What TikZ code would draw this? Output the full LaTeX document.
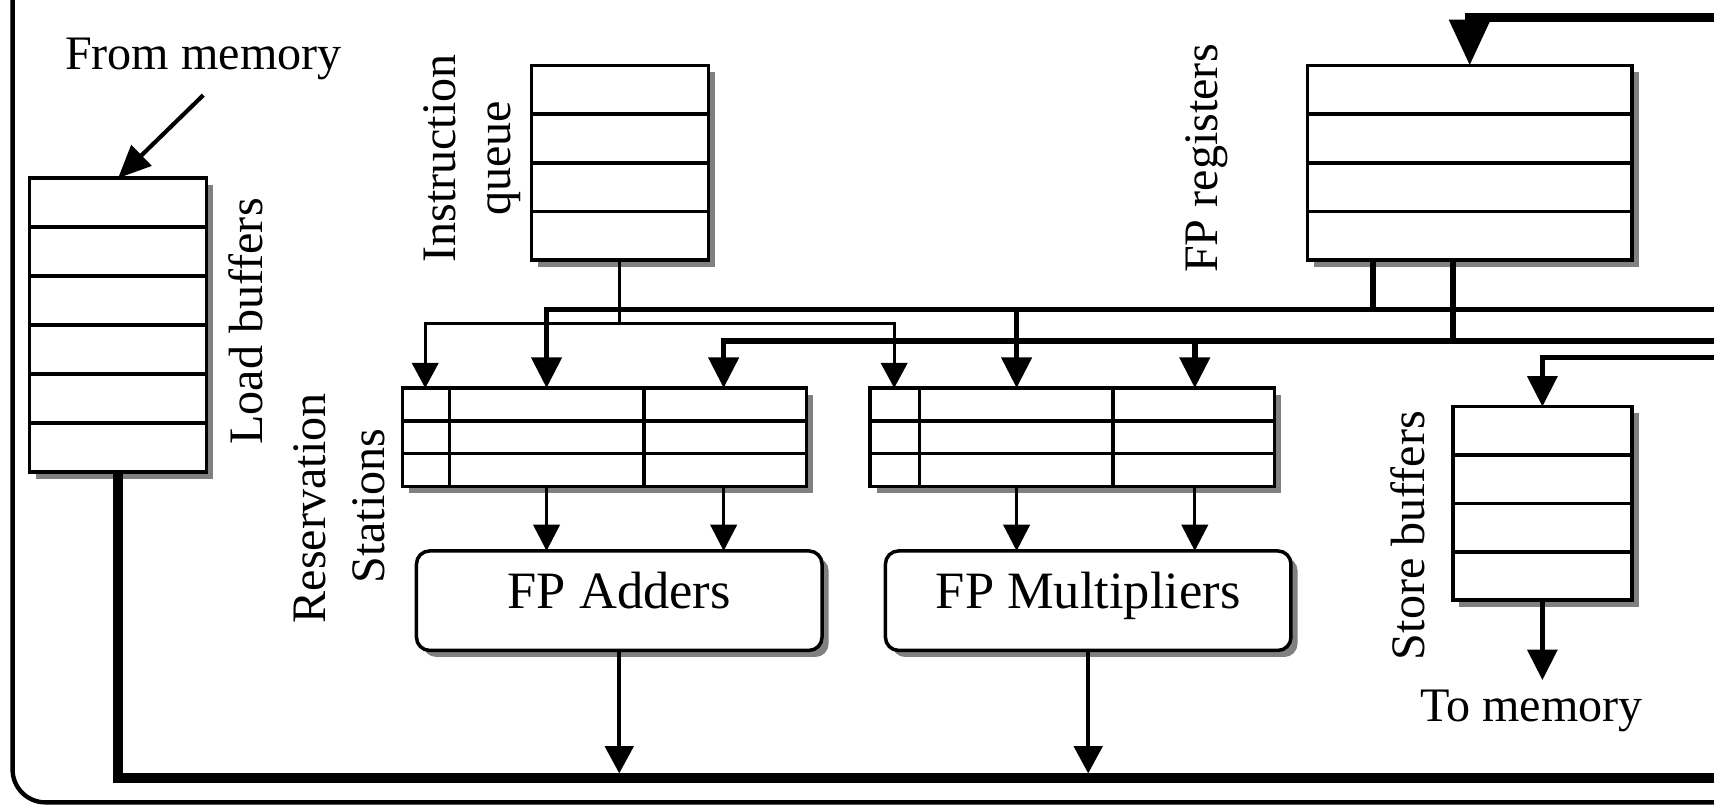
\documentclass[tikz,border=0pt]{standalone}
\usepackage{fontspec}
\setmainfont{Liberation Serif}
\usetikzlibrary{arrows.meta,shadows,calc}
\begin{document}
\begin{tikzpicture}[x=0.5pt,y=-0.5pt,
  box/.style={draw, line width=1.6pt, fill=white, inner sep=0pt, outer sep=0pt,
    drop shadow={shadow xshift=3pt, shadow yshift=-3pt, fill=black!50, opacity=1}},
  fu/.style={box, rounded corners=6pt, font=\fontsize{24pt}{28pt}\selectfont,
    text height=12pt, text depth=4.5pt},
  lbl/.style={font=\fontsize{22pt}{26pt}\selectfont, inner sep=0pt, outer sep=0pt},
  rlbl/.style={lbl, rotate=90, anchor=base},
  divider/.style={line width=1.6pt},
  bus/.style={line width=2.6pt},
  busarr/.style={bus, -{Triangle[length=14pt,width=13.5pt]}},
  sbus/.style={line width=2.3pt, -{Triangle[length=14pt,width=13.5pt]}},
  qline/.style={line width=1.5pt},
  qarr/.style={qline, -{Triangle[length=11.5pt,width=12pt]}},
  fuin/.style={line width=1.5pt, -{Triangle[length=12pt,width=12pt]}},
  fuout/.style={line width=1.8pt, -{Triangle[length=12.5pt,width=13pt]}},
  cdb/.style={line width=4.5pt},
  frame/.style={line width=2pt, rounded corners=15pt}
]
\useasboundingbox (0,0) rectangle (1568,736);
\clip (0,0) rectangle (1568,736);

% outer frame
\draw[frame] (11.5,-40) -- (11.5,734) -- (1640,734);

% boxes
\node[box, minimum width=81pt, minimum height=134.5pt] (lbuf) at (108,297.5) {};
\node[box, minimum width=81pt, minimum height=89pt] (iq) at (567,149) {};
\node[box, minimum width=148.5pt, minimum height=89pt] (fpr) at (1344.5,149) {};
\node[box, minimum width=82pt, minimum height=88.5pt] (sb) at (1411,460.5) {};
\node[box, minimum width=185pt, minimum height=45pt] (rs1) at (553,400) {};
\node[box, minimum width=185pt, minimum height=45pt] (rs2) at (981,400) {};
\node[fu, minimum width=185.5pt, minimum height=45.5pt] (fpa) at (566.5,549.5) {FP Adders};
\node[fu, minimum width=185.5pt, minimum height=45.5pt] (fpm) at (995.5,549.5) {FP Multipliers};

% row dividers
\foreach \i in {1,...,5}
  \draw[divider] ($(lbuf.north west)!{\i/6}!(lbuf.south west)$) -- ($(lbuf.north east)!{\i/6}!(lbuf.south east)$);
\foreach \n in {iq,fpr,sb}
  \foreach \i in {1,2,3}
    \draw[divider] ($(\n.north west)!{\i/4}!(\n.south west)$) -- ($(\n.north east)!{\i/4}!(\n.south east)$);
\foreach \n in {rs1,rs2}
  \foreach \i in {1,2}
    \draw[divider] ($(\n.north west)!{\i/3}!(\n.south west)$) -- ($(\n.north east)!{\i/3}!(\n.south east)$);
\draw[divider] ($(rs1.north west)+(43,0)$) -- ($(rs1.south west)+(43,0)$);
\draw[divider] ($(rs1.north west)+(221,0)$) -- ($(rs1.south west)+(221,0)$);
\draw[divider] ($(rs2.north west)+(45,0)$) -- ($(rs2.south west)+(45,0)$);
\draw[divider] ($(rs2.north west)+(222,0)$) -- ($(rs2.south west)+(222,0)$);

% labels
\node[lbl, anchor=base] (frommem) at (186,64) {From memory};
\node[lbl, anchor=base] (tomem) at (1401,660) {To memory};
\node[rlbl] (tlb) at (240,294) {Load buffers};
\node[rlbl] (tiq1) at (417,145) {Instruction};
\node[rlbl] (tiq2) at (467,145) {queue};
\node[rlbl] (tfpr) at (1114,145) {FP registers};
\node[rlbl] (trs1) at (298,465) {Reservation};
\node[rlbl] (trs2) at (352,463) {Stations};
\node[rlbl] (tsb) at (1303,490) {Store buffers};

% named coordinates
\coordinate (topR) at (1640,16);
\coordinate (ubR) at (1640,283);
\coordinate (lbR) at (1640,312);
\coordinate (sbR) at (1640,327);
\coordinate (cdbR) at (1640,712);
\coordinate (cdbtop) at (0,707.5);
\coordinate (qj) at (567,296);
\coordinate (a1) at (500,0);
\coordinate (a2) at (662,0);
\coordinate (m1) at (930,0);
\coordinate (m2) at (1093,0);
\coordinate (q1) at (389,0);
\coordinate (q2) at (818,0);
\coordinate (r1) at (1256,0);
\coordinate (r2) at (1329,0);
\coordinate (fmS) at (186,87);
\coordinate (tmtip) at ($(sb.south |- tomem.north)+(0,-9)$);

% from memory
\draw[line width=1.9pt, -{Triangle[length=15pt,width=13pt]}] (fmS) -- (lbuf.north);

% CDB into FP registers
\draw[line width=4pt, -{Triangle[length=21pt,width=18pt]}] (topR) -| (fpr.north);

% FP register outputs
\draw[bus] (r1 |- fpr.south) -- (r1 |- ubR);
\draw[bus] (r2 |- fpr.south) -- (r2 |- lbR);

% operand buses
\draw[busarr] (ubR) -| (a1 |- rs1.north);
\draw[busarr] (m1 |- ubR) -- (m1 |- rs2.north);
\draw[busarr] (lbR) -| (a2 |- rs1.north);
\draw[busarr] (m2 |- lbR) -- (m2 |- rs2.north);
\draw[sbus] (sbR) -| (sb.north);

% operation bus
\draw[qline] (iq.south) -- (qj);
\draw[qarr] (qj) -| (q1 |- rs1.north);
\draw[qarr] (qj) -| (q2 |- rs2.north);

% RS to functional units
\draw[fuin] (a1 |- rs1.south) -- (a1 |- fpa.north);
\draw[fuin] (a2 |- rs1.south) -- (a2 |- fpa.north);
\draw[fuin] (m1 |- rs2.south) -- (m1 |- fpm.north);
\draw[fuin] (m2 |- rs2.south) -- (m2 |- fpm.north);

% store buffers to memory
\draw[sbus] (sb.south) -- (tmtip);

% common data bus
\draw[cdb] (lbuf.south) |- (cdbR);
\draw[fuout] (fpa.south) -- (fpa.south |- cdbtop);
\draw[fuout] (fpm.south) -- (fpm.south |- cdbtop);
\end{tikzpicture}
\end{document}
